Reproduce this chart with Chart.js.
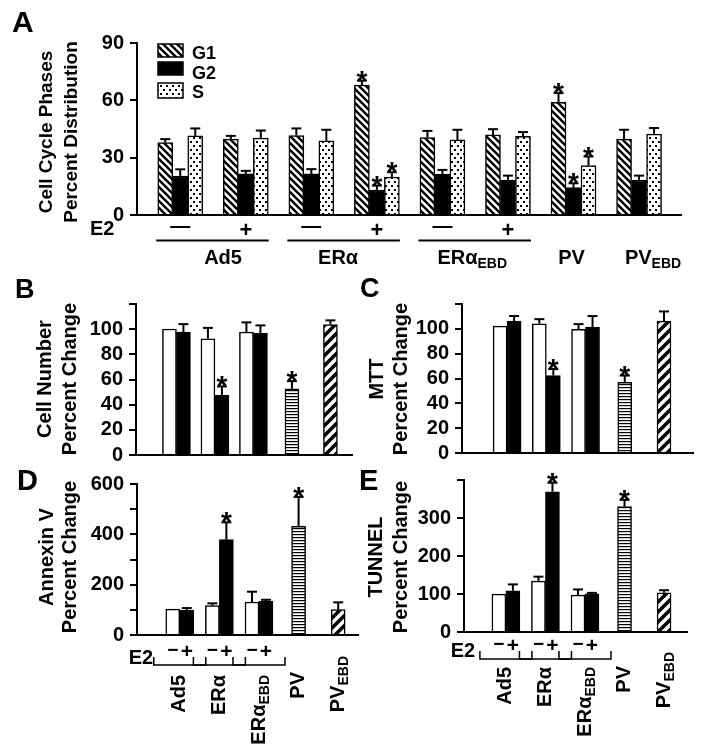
<!DOCTYPE html>
<html>
<head>
<meta charset="utf-8">
<script src="https://cdn.jsdelivr.net/npm/chart.js@4.4.0/dist/chart.umd.min.js"></script>
<style>
  body { margin: 0; background: #fff; width: 708px; height: 755px; overflow: hidden; position: relative; }
  canvas { position: absolute; left: 0; top: 0; }
</style>
</head>
<body>
<canvas id="chartA" width="708" height="755"></canvas>
<canvas id="chartB" width="708" height="755"></canvas>
<canvas id="chartC" width="708" height="755"></canvas>
<canvas id="chartD" width="708" height="755"></canvas>
<canvas id="chartE" width="708" height="755"></canvas>
<script>
const FONT = '"Liberation Sans", Arial, sans-serif';

// ---- panel A: cell cycle phases (8 groups, 3 phases)
const phaseE2 = ['—', '+', '—', '+', '—', '+', '', ''];
const g1Values = [37.9, 39.7, 41.6, 68.0, 40.5, 41.9, 58.9, 39.7];
const g1Errors = [1.8, 1.7, 3.7, 2.3, 3.5, 3.0, 4.9, 4.9];
const g2Values = [20.4, 21.5, 21.5, 13.1, 21.3, 18.3, 14.3, 18.3];
const g2Errors = [3.5, 1.6, 2.5, 2.3, 2.3, 2.3, 2.3, 2.3];
const sValues = [41.4, 40.2, 38.8, 19.8, 39.3, 41.1, 25.9, 42.3];
const sErrors = [3.9, 4.0, 5.8, 2.6, 5.3, 2.3, 4.7, 3.2];
const phaseStars = [false, false, false, true, false, false, true, false];

// ---- panels B-E: treatments
const treatGroups = ['Ad5', 'ERα', 'ERα_EBD', 'PV', 'PV_EBD'];
const starsPlus = [false, true, false];
const starsSingle = [true, false];

const cellNumMinus = [100.1, 92.4, 97.7];
const cellNumMinusErr = [0, 8.6, 7.7];
const cellNumPlus = [97.7, 47.5, 96.7];
const cellNumPlusErr = [6.3, 7.0, 6.3];
const cellNumSingle = [52.6, 103.6];
const cellNumSingleErr = [6.1, 3.4];

const mttMinus = [102.2, 104.0, 99.5];
const mttMinusErr = [0, 3.8, 4.3];
const mttPlus = [106.2, 62.4, 101.4];
const mttPlusErr = [4.1, 5.2, 8.9];
const mttSingle = [57.0, 106.2];
const mttSingleErr = [5.4, 7.8];

const annexMinus = [103, 116.6, 131];
const annexMinusErr = [0, 9.2, 41];
const annexPlus = [98, 378.8, 133.8];
const annexPlusErr = [9, 68.9, 6.2];
const annexSingle = [431.8, 100.7];
const annexSingleErr = [116.5, 29.1];

const tunelMinus = [99.7, 134, 97];
const tunelMinusErr = [0, 11.6, 15];
const tunelPlus = [108.6, 369, 100.6];
const tunelPlusErr = [16.7, 23.8, 2.4];
const tunelSingle = [330, 103.3];
const tunelSingleErr = [17.7, 6.7];

// ---- fill patterns
function makePattern(w, h, draw) {
  const c = document.createElement('canvas');
  c.width = w; c.height = h;
  const g = c.getContext('2d');
  g.fillStyle = '#fff'; g.fillRect(0, 0, w, h);
  g.fillStyle = '#000'; g.strokeStyle = '#000';
  draw(g, w, h);
  return g.createPattern(c, 'repeat');
}
function seg(g, a, b, c, d) { g.beginPath(); g.moveTo(a, b); g.lineTo(c, d); g.stroke(); }

const pats = {
  back: makePattern(7, 7, g => { g.lineWidth = 2.4; seg(g, -1, -1, 8, 8); seg(g, -1, 6, 1, 8); seg(g, 6, -1, 8, 1); }),
  dots: makePattern(6, 8, g => { g.fillRect(1, 1, 2, 2); g.fillRect(4, 5, 2, 2); }),
  hstripe: makePattern(4, 3, g => { g.fillRect(0, 0, 4, 1.2); }),
  fwd: makePattern(10, 10, g => { g.lineWidth = 3.5; seg(g, -1, 11, 11, -1); seg(g, -1, 1, 1, -1); seg(g, 9, 11, 11, 9); })
};

// ---- helpers
function txt(ctx, text, x, y, size, align, rotate) {
  const [main, sub] = text.split('_');
  const subSize = Math.round(size * 0.72);
  ctx.save();
  ctx.translate(x, y);
  if (rotate) ctx.rotate(-Math.PI / 2);
  ctx.fillStyle = '#000';
  ctx.textAlign = 'left';
  ctx.textBaseline = 'middle';
  ctx.font = `bold ${size}px ${FONT}`;
  const mw = ctx.measureText(main).width;
  ctx.font = `bold ${subSize}px ${FONT}`;
  const sw = sub ? ctx.measureText(sub).width : 0;
  const total = mw + sw;
  const x0 = align === 'center' ? -total / 2 : align === 'right' ? -total : 0;
  ctx.font = `bold ${size}px ${FONT}`;
  ctx.fillText(main, x0, 0);
  if (sub) {
    ctx.font = `bold ${subSize}px ${FONT}`;
    ctx.fillText(sub, x0 + mw, size * 0.32);
  }
  ctx.restore();
}

function line(ctx, pts, w) {
  ctx.save();
  ctx.strokeStyle = '#000';
  ctx.lineWidth = w || 2;
  ctx.beginPath();
  pts.forEach((p, i) => i ? ctx.lineTo(p[0], p[1]) : ctx.moveTo(p[0], p[1]));
  ctx.stroke();
  ctx.restore();
}

// error bars (up only) and significance stars
const errorBars = {
  id: 'errorBars',
  afterDatasetsDraw(chart) {
    const ctx = chart.ctx;
    const yScale = chart.scales.y;
    chart.data.datasets.forEach((ds, di) => {
      const meta = chart.getDatasetMeta(di);
      meta.data.forEach((bar, i) => {
        const v = ds.data[i].y;
        const e = ds.errors ? ds.errors[i] : 0;
        const top = yScale.getPixelForValue(v + e);
        if (e > 0) {
          line(ctx, [[bar.x, bar.y], [bar.x, top]], 2);
          line(ctx, [[bar.x - 5, top], [bar.x + 5, top]], 2);
        }
        if (ds.stars && ds.stars[i]) {
          ctx.save();
          ctx.fillStyle = '#000';
          ctx.font = `bold 28px ${FONT}`;
          ctx.textAlign = 'center';
          ctx.textBaseline = 'alphabetic';
          ctx.fillText('*', bar.x, top + 9);
          ctx.restore();
        }
      });
    });
  }
};

function baseOptions(box, xr, yc) {
  return {
    responsive: false,
    animation: false,
    devicePixelRatio: 1,
    layout: { padding: { left: 0, top: box.T, right: 708 - box.R, bottom: 755 - box.B } },
    plugins: { legend: { display: false }, tooltip: { enabled: false } },
    scales: {
      x: {
        type: 'linear', min: xr[0], max: xr[1], offset: false,
        grid: { display: false }, ticks: { display: false },
        border: { color: '#000', width: 2 },
        afterFit: s => { s.height = 0; }
      },
      y: {
        min: 0, max: yc.max,
        afterFit: s => { s.width = box.L; },
        border: { color: '#000', width: 2 },
        grid: { drawOnChartArea: false, color: '#000', lineWidth: 2, tickLength: 7 },
        ticks: {
          stepSize: yc.step, padding: 6, color: '#000', autoSkip: false,
          font: { family: FONT, size: 20, weight: 'bold' },
          callback: yc.cb
        }
      }
    }
  };
}

const barStyle = { borderColor: '#000', borderWidth: 1.5, barThickness: 15 };

// ---- panel A
const boxA = { L: 137, R: 681, T: 43, B: 215 };
const annotA = {
  id: 'annotA',
  afterDraw(chart) {
    const ctx = chart.ctx;
    txt(ctx, 'A', 12, 24, 30, 'left');
    txt(ctx, 'Cell Cycle Phases', 47, 132, 19, 'center', true);
    txt(ctx, 'Percent Distribution', 72, 132, 19, 'center', true);
    // legend
    const leg = [['G1', pats.back, 44, 13, 54], ['G2', '#000', 62, 13, 74], ['S', pats.dots, 83, 15, 93]];
    leg.forEach(([name, fill, y, h, ty]) => {
      ctx.save();
      ctx.fillStyle = fill;
      ctx.fillRect(158, y, 25, h);
      ctx.strokeStyle = '#000'; ctx.lineWidth = 1.5;
      ctx.strokeRect(158, y, 25, h);
      ctx.restore();
      txt(ctx, name, 192, ty, 18, 'left');
    });
    // E2 row
    const g1 = chart.getDatasetMeta(0).data;
    const s = chart.getDatasetMeta(2).data;
    const g2 = chart.getDatasetMeta(1).data;
    txt(ctx, 'E2', 90, 229, 20, 'left');
    phaseE2.forEach((sign, i) => {
      if (sign) txt(ctx, sign, g2[i].x, sign === '+' ? 231 : 226, sign === '+' ? 22 : 20, 'center');
    });
    const nudge = [10, -6, -3, -2, 14];
    treatGroups.forEach((name, k) => {
      let cx;
      if (k < 3) {
        const a = 2 * k, b = 2 * k + 1;
        line(ctx, [[g1[a].x - 9, 240.5], [s[b].x + 8, 240.5]], 2);
        cx = (g2[a].x + g2[b].x) / 2;
      } else {
        cx = g2[k + 3].x;
      }
      txt(ctx, name, cx + nudge[k], 258, 20, 'center');
    });
  }
};

new Chart(document.getElementById('chartA'), {
  type: 'bar',
  data: {
    datasets: [
      { label: 'G1', data: g1Values.map((v, i) => ({ x: i, y: v })), backgroundColor: pats.back, errors: g1Errors, stars: phaseStars, ...barStyle },
      { label: 'G2', data: g2Values.map((v, i) => ({ x: i, y: v })), backgroundColor: '#000', errors: g2Errors, stars: phaseStars, ...barStyle },
      { label: 'S', data: sValues.map((v, i) => ({ x: i, y: v })), backgroundColor: pats.dots, errors: sErrors, stars: phaseStars, ...barStyle }
    ]
  },
  options: baseOptions(boxA, [-0.66, 7.64], { max: 90, step: 30 }),
  plugins: [errorBars, annotA]
});

// ---- panels B-E
function lowerPanel(id, box, xr, yc, d, annot) {
  const bs = { ...barStyle, barThickness: 14 };
  const n = d.minus.length;
  new Chart(document.getElementById(id), {
    type: 'bar',
    data: {
      datasets: [
        { label: 'E2 −', data: d.minus.map((v, i) => ({ x: i, y: v })), backgroundColor: '#fff', errors: d.minusErr, ...bs },
        { label: 'E2 +', data: d.plus.map((v, i) => ({ x: i, y: v })), backgroundColor: '#000', errors: d.plusErr, stars: starsPlus, ...bs },
        { label: 'PV', data: d.single.map((v, i) => ({ x: i + n, y: v })), backgroundColor: [pats.hstripe, pats.fwd], errors: d.singleErr, stars: starsSingle, grouped: false, ...bs }
      ]
    },
    options: baseOptions(box, xr, yc),
    plugins: [errorBars, annot]
  });
}

function titleAnnot(letter, lx, ly, lsize, lines, xs, cy, bottom) {
  return {
    id: 'annot' + letter,
    afterDraw(chart) {
      const ctx = chart.ctx;
      txt(ctx, letter, lx, ly, lsize, 'left');
      lines.forEach((t, i) => txt(ctx, t, xs[i], cy, 20, 'center', true));
      if (!bottom) return;
      const wm = chart.getDatasetMeta(0).data;
      const bl = chart.getDatasetMeta(1).data;
      const sg = chart.getDatasetMeta(2).data;
      txt(ctx, 'E2', bottom.e2x, bottom.e2y, 20, 'center');
      wm.forEach((w, i) => {
        const b = bl[i];
        const cx = (w.x + b.x) / 2;
        txt(ctx, '−', w.x, bottom.signY, 19, 'center');
        txt(ctx, '+', b.x, bottom.signY + 1, 21, 'center');
        const l = w.x - 19, r = b.x + 19;
        line(ctx, [[l, bottom.brTop], [l, bottom.brBot], [r, bottom.brBot], [r, bottom.brTop]], 1.5);
        txt(ctx, treatGroups[i], cx, bottom.labTop, 20, 'right', true);
      });
      sg.forEach((bar, i) => {
        txt(ctx, treatGroups[i + wm.length], bar.x, bottom.singleTop[i], 20, 'right', true);
      });
    }
  };
}

const cb120 = v => (v === 120 ? '' : v);

lowerPanel('chartB', { L: 136, R: 352, T: 304, B: 455 }, [-1.05, 4.56],
  { max: 120, step: 20, cb: cb120 },
  { minus: cellNumMinus, minusErr: cellNumMinusErr, plus: cellNumPlus, plusErr: cellNumPlusErr, single: cellNumSingle, singleErr: cellNumSingleErr },
  titleAnnot('B', 15, 291, 27, ['Cell Number', 'Percent Change'], [45, 70], 379));

lowerPanel('chartC', { L: 462, R: 693, T: 304, B: 453 }, [-1.15, 4.74],
  { max: 120, step: 20, cb: cb120 },
  { minus: mttMinus, minusErr: mttMinusErr, plus: mttPlus, plusErr: mttPlusErr, single: mttSingle, singleErr: mttSingleErr },
  titleAnnot('C', 360, 290, 27, ['MTT', 'Percent Change'], [377, 401], 379));

lowerPanel('chartD', { L: 137, R: 358, T: 484, B: 635 }, [-1.08, 4.5],
  { max: 600, step: 100, cb: v => (v % 200 === 0 ? v : '') },
  { minus: annexMinus, minusErr: annexMinusErr, plus: annexPlus, plusErr: annexPlusErr, single: annexSingle, singleErr: annexSingleErr },
  titleAnnot('D', 17, 482, 29, ['Annexin V', 'Percent Change'], [47, 70], 557,
    { e2x: 141, e2y: 658, signY: 651, brTop: 657, brBot: 665, labTop: 675, singleTop: [672, 656] }));

lowerPanel('chartE', { L: 464, R: 687, T: 480, B: 632 }, [-1.06, 4.58],
  { max: 400, step: 100, cb: v => (v === 400 ? '' : v) },
  { minus: tunelMinus, minusErr: tunelMinusErr, plus: tunelPlus, plusErr: tunelPlusErr, single: tunelSingle, singleErr: tunelSingleErr },
  titleAnnot('E', 359, 482, 29, ['TUNNEL', 'Percent Change'], [376, 401], 557,
    { e2x: 463, e2y: 651, signY: 645, brTop: 651, brBot: 659, labTop: 667, singleTop: [666, 652] }));
</script>
</body>
</html>
